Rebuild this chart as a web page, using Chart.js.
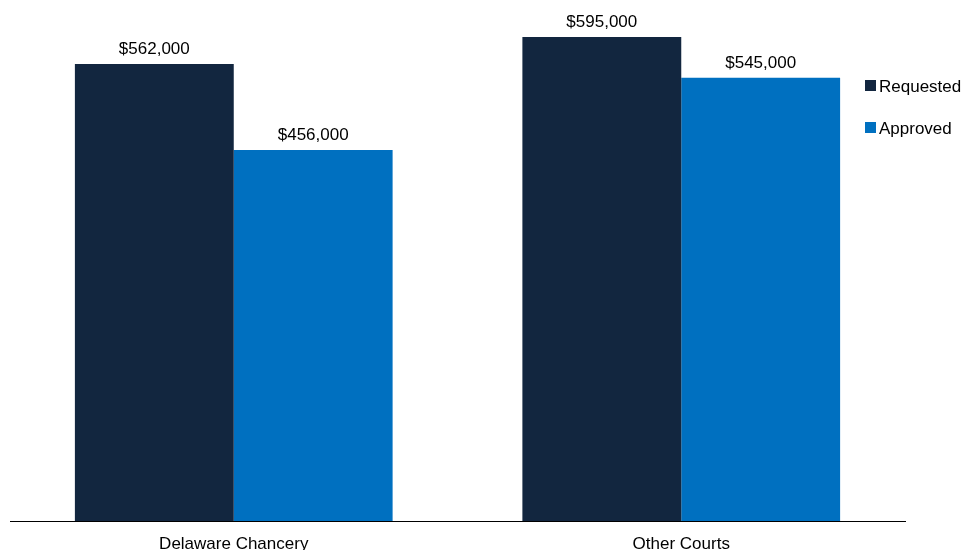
<!DOCTYPE html>
<html>
<head>
<meta charset="utf-8">
<script src="https://cdn.jsdelivr.net/npm/chart.js@4"></script>
<style>
  html, body { margin: 0; padding: 0; background: #fff; }
  #wrap { width: 964px; height: 550px; }
</style>
</head>
<body>
<div id="wrap"><canvas id="feesChart"></canvas></div>
<script>
// Data for chart
const courts = ["Delaware Chancery", "Other Courts"];
const seriesNames = ["Requested", "Approved"];
const requestedFees = [562000, 595000];
const approvedFees = [456000, 545000];
const seriesColors = ["#12263f", "#0070c0"];

const FONT = "'Liberation Sans', Arial, sans-serif";

// Value labels above each bar
const valueLabels = {
    id: "valueLabels",
    afterDatasetsDraw(chart) {
        const ctx = chart.ctx;
        ctx.save();
        ctx.font = "17px " + FONT;
        ctx.fillStyle = "#000";
        ctx.textAlign = "center";
        ctx.textBaseline = "alphabetic";
        chart.data.datasets.forEach((ds, i) => {
            chart.getDatasetMeta(i).data.forEach((bar, j) => {
                ctx.fillText("$" + ds.data[j].toLocaleString("en-US"), bar.x, bar.y - 10);
            });
        });
        ctx.restore();
    }
};

// Legend on the right, next to the top of the bars
const sideLegend = {
    id: "sideLegend",
    afterDraw(chart) {
        const ctx = chart.ctx;
        const left = chart.chartArea.right - 40;
        ctx.save();
        ctx.font = "17px " + FONT;
        ctx.textBaseline = "alphabetic";
        ctx.textAlign = "left";
        chart.data.datasets.forEach((ds, i) => {
            const base = 92 + i * 42;
            ctx.fillStyle = ds.backgroundColor;
            ctx.fillRect(left, base - 12, 11, 11);
            ctx.fillStyle = "#000";
            ctx.fillText(ds.label, left + 14, base);
        });
        ctx.restore();
    }
};

const feesChart = new Chart(document.getElementById("feesChart"), {
    type: "bar",
    data: {
        labels: courts,
        datasets: [{
            label: seriesNames[0],
            data: requestedFees,
            backgroundColor: seriesColors[0],
        }, {
            label: seriesNames[1],
            data: approvedFees,
            backgroundColor: seriesColors[1],
        }],
    },
    options: {
        responsive: true,
        maintainAspectRatio: false,
        animation: false,
        layout: { padding: { top: 33, left: 10, right: 59, bottom: 0 } },
        datasets: { bar: { categoryPercentage: 0.71, barPercentage: 1.0 } },
        scales: {
            x: {
                grid: { display: false, drawTicks: false },
                border: { display: true, color: "#000", width: 1 },
                ticks: {
                    color: "#000",
                    padding: 13,
                    maxRotation: 0,
                    font: { family: FONT, size: 17 },
                },
                afterFit(scale) { scale.height = 29; },
            },
            y: {
                display: false,
                min: 0,
                max: 600000,
            },
        },
        plugins: {
            legend: { display: false },
            tooltip: { enabled: false },
        },
    },
    plugins: [valueLabels, sideLegend],
});
</script>
</body>
</html>
